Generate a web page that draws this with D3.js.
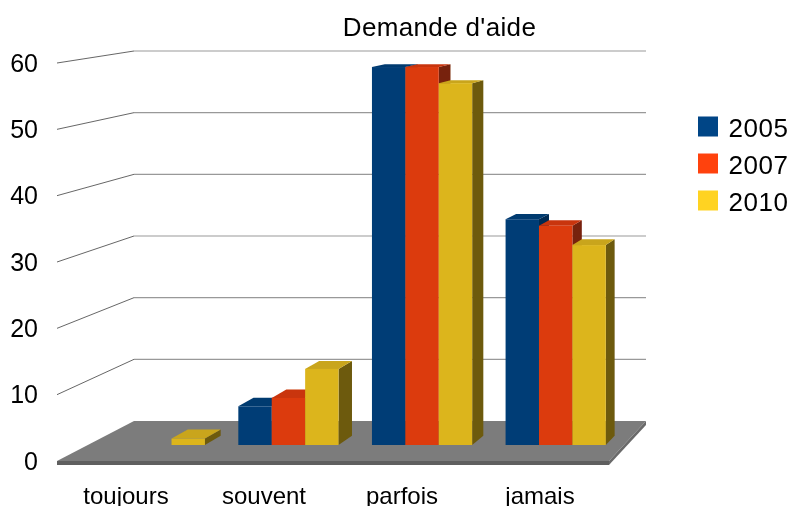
<!DOCTYPE html>
<html>

<script src="https://cdn.jsdelivr.net/npm/d3@7"></script>

<style>

  body, html {
    padding: 0;
    margin: 0;
    background: #fff;
  }

  svg {
    display: block;
    font-family: "Liberation Sans", Arial, sans-serif;
    fill: #000;
  }

  .axis text {
    fill: #000;
    font-family: "Liberation Sans", Arial, sans-serif;
  }

</style>

<body>
  <svg width="790" height="506"></svg>

  <script>

    var categories = ['toujours', 'souvent', 'parfois', 'jamais'],
        years = ['2005', '2007', '2010'],
        values2005 = [0, 6, 58.6, 35],
        values2007 = [0, 7.3, 58.6, 34],
        values2010 = [1, 11.8, 56.1, 31],
        yTicks = [0, 10, 20, 30, 40, 50, 60];

    var series = [values2005, values2007, values2010],
        legendColors = ['#004586', '#ff420e', '#ffd320'],
        frontColors = ['#003d76', '#dc3a0c', '#dcb51d'],
        topColors = ['#003a70', '#c9340a', '#c9a51a'],
        sideColors = ['#002a52', '#77200a', '#6d5a0f'];

    var svg = d3.select('svg');

    // slight softness, the reference is a scaled bitmap
    svg.append('defs').append('filter')
      .attr('id', 'soft')
      .append('feGaussianBlur').attr('stdDeviation', 0.45);

    var root = svg.append('g').attr('filter', 'url(#soft)');

    // three planes of the box, front edge, plane of the bars, back wall
    var yFront = d3.scaleLinear().domain([0, 60]).range([461, 63]),
        yBack = d3.scaleLinear().domain([0, 60]).range([421, 51]),
        yBar = d3.scaleLinear().domain([0, 60]).range([445, 58]);

    var xFront = d3.scaleBand().domain(categories).range([57, 609]),
        xBar = d3.scaleBand().domain(categories).range([88, 622.5]).paddingInner(0.25).paddingOuter(0.125),
        xSeries = d3.scaleBand().domain(years).range([0, xBar.bandwidth()]);

    // the depth of a bar runs towards the vanishing point of the box
    var vanish = [1120, -91], depth = 0.0172;
    function back(p) {
      return [p[0] + (vanish[0] - p[0]) * depth, p[1] + (vanish[1] - p[1]) * depth];
    }

    function poly(points) {
      return d3.line()(points) + 'Z';
    }

    // back wall grid
    root.append('g').selectAll('line')
      .data(yTicks.slice(1))
      .enter().append('line')
        .attr('x1', 134).attr('x2', 646)
        .attr('y1', yBack).attr('y2', yBack)
        .attr('stroke', '#999').attr('stroke-width', 1.2);

    // grid on the left wall
    root.append('g').selectAll('line')
      .data(yTicks.slice(1))
      .enter().append('line')
        .attr('x1', 57).attr('x2', 134)
        .attr('y1', yFront).attr('y2', yBack)
        .attr('stroke', '#555').attr('stroke-width', 0.9);

    // floor
    root.append('path')
      .attr('d', poly([[57, yFront(0)], [134, yBack(0)], [646, yBack(0)], [609, yFront(0)]]))
      .attr('fill', '#7c7c7c');
    root.append('path')
      .attr('d', poly([[57, yFront(0)], [609, yFront(0)], [609, yFront(0) + 4], [57, yFront(0) + 4]]))
      .attr('fill', '#5f5f5f');
    root.append('path')
      .attr('d', poly([[609, yFront(0)], [646, yBack(0)], [646, yBack(0) + 4], [609, yFront(0) + 4]]))
      .attr('fill', '#6a6a6a');

    // bars
    series.forEach(function (values, s) {
      var g = root.append('g');
      values.forEach(function (v, c) {
        if (!v) return;
        var x0 = xBar(categories[c]) + xSeries(years[s]),
            x1 = x0 + xSeries.bandwidth(),
            y0 = yBar(0),
            y1 = yBar(v);
        g.append('path')
          .attr('d', poly([[x1, y0], back([x1, y0]), back([x1, y1]), [x1, y1]]))
          .attr('fill', sideColors[s]);
        g.append('path')
          .attr('d', poly([[x0, y1], back([x0, y1]), back([x1, y1]), [x1, y1]]))
          .attr('fill', topColors[s]);
        g.append('rect')
          .attr('x', x0).attr('y', y1)
          .attr('width', x1 - x0).attr('height', y0 - y1)
          .attr('fill', frontColors[s]);
      });
    });

    // axes, only the labels are visible
    var yAxis = root.append('g')
      .attr('class', 'axis')
      .attr('transform', 'translate(46,0)')
      .call(d3.axisLeft(yFront).tickValues(yTicks).tickSize(0).tickPadding(8));
    yAxis.select('.domain').remove();
    yAxis.selectAll('text').style('font-size', '25px');

    var xAxis = root.append('g')
      .attr('class', 'axis')
      .attr('transform', 'translate(0,479)')
      .call(d3.axisBottom(xFront).tickSize(0).tickPadding(8));
    xAxis.select('.domain').remove();
    xAxis.selectAll('text').style('font-size', '24px');

    // title
    root.append('text')
      .attr('x', 439.5).attr('y', 36)
      .attr('text-anchor', 'middle')
      .style('font-size', '26px')
      .style('letter-spacing', '0.35px')
      .text("Demande d'aide");

    // legend
    var legend = root.append('g').selectAll('g')
      .data(years)
      .enter().append('g')
        .attr('transform', function (d, i) { return 'translate(698,' + (116.5 + i * 37) + ')'; });

    legend.append('rect')
      .attr('width', 20).attr('height', 20)
      .attr('fill', function (d, i) { return legendColors[i]; });

    legend.append('text')
      .attr('x', 30.5).attr('y', 20)
      .style('font-size', '26px')
      .style('letter-spacing', '0.5px')
      .text(function (d) { return d; });

  </script>
</body>
</html>
